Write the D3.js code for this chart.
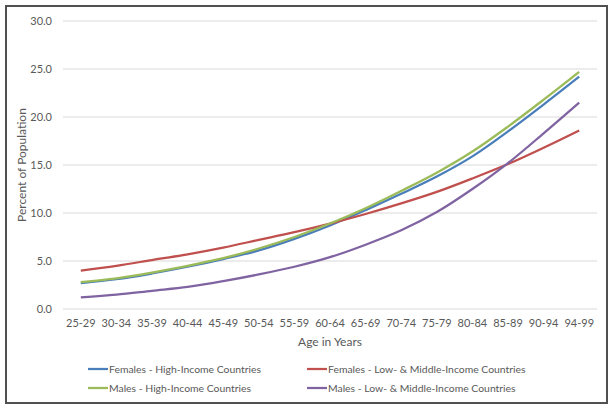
<!DOCTYPE html>
<html>
<head>
<meta charset="utf-8">
<script src="https://cdnjs.cloudflare.com/ajax/libs/d3/7.8.5/d3.min.js"></script>
<style>
  body { margin: 0; background: #fff; }
  text { font-family: Lato, "Open Sans", sans-serif; fill: #595959; }
</style>
</head>
<body>
<div id="chart"></div>
<script>
var w = 614, h = 411;

var ageGroups = ['25-29', '30-34', '35-39', '40-44', '45-49', '50-54', '55-59', '60-64',
  '65-69', '70-74', '75-79', '80-84', '85-89', '90-94', '94-99'];

var femalesHigh = [2.7, 3.1, 3.7, 4.4, 5.2, 6.1, 7.3, 8.7, 10.3, 12.0, 13.8, 15.9, 18.5, 21.3, 24.2];
var femalesLow  = [4.0, 4.5, 5.1, 5.7, 6.4, 7.2, 8.0, 8.9, 9.9, 11.0, 12.2, 13.6, 15.1, 16.8, 18.6];
var malesHigh   = [2.8, 3.2, 3.8, 4.5, 5.3, 6.3, 7.5, 8.9, 10.5, 12.3, 14.2, 16.4, 19.0, 21.8, 24.7];
var malesLow    = [1.2, 1.5, 1.9, 2.3, 2.9, 3.6, 4.4, 5.4, 6.7, 8.2, 10.1, 12.5, 15.2, 18.3, 21.5];

var seriesNames = ['Females - High-Income Countries', 'Females - Low- & Middle-Income Countries',
  'Males - High-Income Countries', 'Males - Low- & Middle-Income Countries'];
var seriesValues = [femalesHigh, femalesLow, malesHigh, malesLow];
var seriesColors = ['#4a7ebb', '#c0504d', '#9bbb59', '#8064a2'];

var yTicks = [0, 5, 10, 15, 20, 25, 30];

// plot box (note: "top" is taken by window.top)
var plotLeft = 63, plotRight = 597, plotTop = 21, plotBottom = 309;

var svg = d3.select('#chart').append('svg')
  .attr('width', w)
  .attr('height', h);

// frame
svg.append('rect')
  .attr('x', 6).attr('y', 6)
  .attr('width', 601).attr('height', 397)
  .attr('fill', '#fff')
  .attr('stroke', '#505050')
  .attr('stroke-width', 2);

var x = d3.scaleBand().domain(ageGroups).range([plotLeft, plotRight]);
var y = d3.scaleLinear().domain([0, 30]).range([plotBottom, plotTop]);

// gridlines
svg.selectAll('.grid')
  .data(yTicks)
  .enter().append('line')
  .attr('class', 'grid')
  .attr('x1', plotLeft).attr('x2', plotRight)
  .attr('y1', function(d) { return y(d); })
  .attr('y2', function(d) { return y(d); })
  .attr('stroke', '#d9d9d9')
  .attr('stroke-width', 1);

// y axis
var yAxis = svg.append('g')
  .attr('transform', 'translate(' + (plotLeft - 7) + ',0)')
  .call(d3.axisLeft(y).tickValues(yTicks).tickFormat(d3.format('.1f')).tickSize(0));
yAxis.select('.domain').remove();
yAxis.selectAll('text').style('font-size', '11px').attr('dy', '0.35em').attr('x', -4);

// x axis
var xAxis = svg.append('g')
  .attr('transform', 'translate(0,' + plotBottom + ')')
  .call(d3.axisBottom(x).tickSize(0));
xAxis.select('.domain').remove();
xAxis.selectAll('text').style('font-size', '11px').attr('y', 10);

// axis titles
svg.append('text')
  .attr('x', (plotLeft + plotRight) / 2)
  .attr('y', 346)
  .attr('text-anchor', 'middle')
  .style('font-size', '12px')
  .text('Age in Years');

svg.append('text')
  .attr('transform', 'translate(26,' + ((plotTop + plotBottom) / 2) + ') rotate(-90)')
  .attr('text-anchor', 'middle')
  .style('font-size', '12px')
  .text('Percent of Population');

// lines
var line = d3.line()
  .x(function(d, i) { return x(ageGroups[i]) + x.bandwidth() / 2; })
  .y(function(d) { return y(d); })
  .curve(d3.curveCatmullRom.alpha(0.5));

svg.selectAll('.series')
  .data(seriesValues)
  .enter().append('path')
  .attr('class', 'series')
  .attr('d', function(d) { return line(d); })
  .attr('fill', 'none')
  .attr('stroke', function(d, i) { return seriesColors[i]; })
  .attr('stroke-width', 2.25);

// legend
var legendX = [88, 307], legendY = [369, 388];
var legend = svg.selectAll('.legend')
  .data(seriesNames)
  .enter().append('g')
  .attr('class', 'legend')
  .attr('transform', function(d, i) {
    return 'translate(' + legendX[i % 2] + ',' + legendY[Math.floor(i / 2)] + ')';
  });

legend.append('line')
  .attr('x1', 0).attr('x2', 20)
  .attr('y1', 0).attr('y2', 0)
  .attr('stroke', function(d, i) { return seriesColors[i]; })
  .attr('stroke-width', 2.25);

legend.append('text')
  .attr('x', 21)
  .attr('dy', '0.35em')
  .style('font-size', '10.4px')
  .text(function(d) { return d; });
</script>
</body>
</html>
